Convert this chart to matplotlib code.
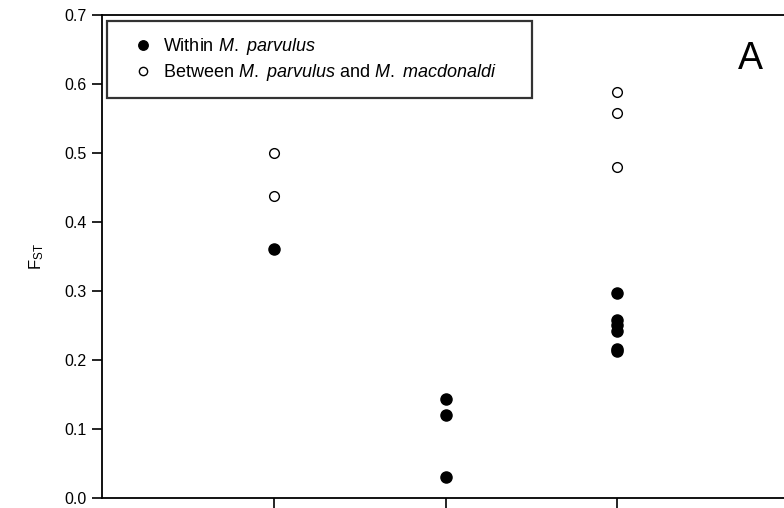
import matplotlib
matplotlib.use("Agg")
import matplotlib.pyplot as plt
import numpy as np

plt.rcParams['font.family'] = ['Liberation Sans', 'DejaVu Sans']
plt.rcParams['mathtext.fontset'] = 'custom'
plt.rcParams['mathtext.rm'] = 'Liberation Sans'
plt.rcParams['mathtext.it'] = 'Liberation Sans:italic'

# positions of the three comparison groups on the x axis
within_x = [1, 2, 2, 2, 3, 3, 3, 3, 3, 3]
within_fst = [0.361, 0.143, 0.120, 0.030, 0.297, 0.258, 0.250, 0.242, 0.216, 0.212]
between_x = [1, 1, 3, 3, 3]
between_fst = [0.500, 0.437, 0.588, 0.558, 0.480]

yticks = [0.0, 0.1, 0.2, 0.3, 0.4, 0.5, 0.6, 0.7]

fig = plt.figure(figsize=(7.84, 5.08), dpi=100)
ax = fig.add_axes([102 / 784, 10.5 / 508, 687 / 784, 482.5 / 508])

ax.plot(within_x, within_fst, 'o', color='black', markersize=8, linestyle='none',
        label=r'Within $\it{M.}$ $\it{parvulus}$')
ax.plot(between_x, between_fst, 'o', markerfacecolor='white', markeredgecolor='black',
        markeredgewidth=1.0, markersize=7, linestyle='none',
        label=r'Between $\it{M.}$ $\it{parvulus}$ and $\it{M.}$ $\it{macdonaldi}$')

ax.set_xlim(0, 4)
ax.set_ylim(0, 0.7)
ax.set_xticks([1, 2, 3])
ax.set_xticklabels([])
ax.set_yticks(yticks)
ax.set_yticklabels([f"{v:.1f}" for v in yticks])
ax.tick_params(direction='out', length=7, width=1.2, labelsize=11.5, colors='black')
ax.tick_params(axis='y', pad=4)
for s in ax.spines.values():
    s.set_linewidth(1.3)

ax.set_ylabel(r'F$_{\mathrm{ST}}$', fontsize=12, labelpad=13)

# legend box: 107..532 px wide, 21..97 px tall
leg = ax.legend(loc='upper left',
                bbox_to_anchor=(5 / 687, (497.5 - 97) / 482.5, 425 / 687, 76 / 482.5),
                mode='expand', borderaxespad=0, frameon=True, fancybox=False,
                fontsize=13, handlelength=2.3, handletextpad=-0.05, borderpad=0.85,
                labelspacing=0.25, markerscale=0.85)
leg.get_frame().set_edgecolor('black')
leg.get_frame().set_linewidth(1.6)

fig.text(750 / 784, (508 - 59) / 508, 'A', fontsize=27, ha='center', va='center')

fig.savefig('out.png', dpi=100)
